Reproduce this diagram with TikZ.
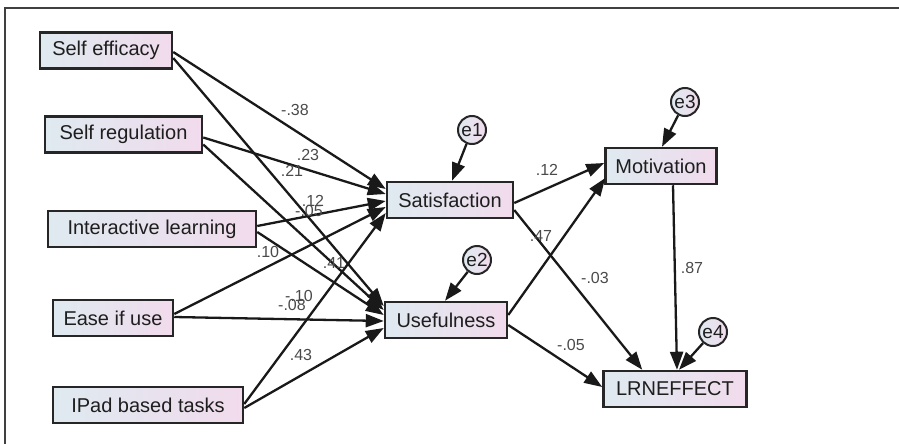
\documentclass[tikz,border=0pt]{standalone}
\usepackage{fontspec}
\setmainfont{Liberation Sans}
\usetikzlibrary{arrows.meta,calc}
\definecolor{boxL}{HTML}{DFEAF0}
\definecolor{boxR}{HTML}{F1DBEC}
\definecolor{txt}{HTML}{1E1E1E}
\definecolor{lbl}{HTML}{4A4A4A}
\begin{document}
\begin{tikzpicture}[x=1pt,y=-1pt,
  obs/.style={draw=black!85, line width=2.5pt, left color=boxL, right color=boxR,
    inner sep=0pt, text=txt, font=\fontsize{20}{24}\selectfont, minimum height=36pt},
  err/.style={circle, draw=black!85, line width=2pt, left color=boxL, right color=boxR,
    inner sep=0pt, minimum size=28pt, text=txt, font=\fontsize{19}{20}\selectfont},
  path/.style={line width=2.3pt, black!90, -{Triangle[length=18pt,width=13pt]}},
  coef/.style={text=lbl, font=\fontsize{16}{17}\selectfont, inner sep=0pt}]
\useasboundingbox (0,0) rectangle (899,444);
\draw[line width=1.6pt, black!75] (5,444) -- (5,8) -- (899,8);

% observed variables
\node[obs, minimum width=132pt] (se)  at (106,50.5) {Self efficacy};
\node[obs, minimum width=157pt] (sr)  at (123.5,134.5) {Self regulation};
\node[obs, minimum width=208pt] (il)  at (152,229) {Interactive learning};
\node[obs, minimum width=120pt] (eu)  at (113,318) {Ease if use};
\node[obs, minimum width=190pt] (ip)  at (148,405) {IPad based tasks};
\node[obs, minimum width=126pt] (sat) at (450,200) {Satisfaction};
\node[obs, minimum width=122pt] (use) at (446,320) {Usefulness};
\node[obs, minimum width=111pt] (mot) at (661,166) {Motivation};
\node[obs, minimum width=143pt] (lrn) at (675,389) {LRNEFFECT};

% error terms
\node[err] (e1) at (472,130) {e1};
\node[err] (e2) at (477,260) {e2};
\node[err] (e3) at (685,102) {e3};
\node[err] (e4) at (713,332) {e4};

% paths into Satisfaction
\draw[path] ($(se.east)+(0,1.5)$) -- ($(sat.west)+(0,-11)$);
\draw[path] ($(sr.east)+(0,3)$)   -- ($(sat.west)+(0,-6)$);
\draw[path] ($(il.east)+(0,-3)$)  -- ($(sat.west)+(0,1)$);
\draw[path] ($(eu.east)+(0,-4)$)  -- ($(sat.west)+(0,7)$);
\draw[path] ($(ip.east)+(0,-1)$)  -- ($(sat.west)+(0,13)$);
% paths into Usefulness
\draw[path] ($(se.east)+(0,7.5)$) -- ($(use.west)+(0,-14)$);
\draw[path] ($(sr.east)+(0,10)$)  -- ($(use.west)+(0,-10)$);
\draw[path] ($(il.east)+(0,3)$)   -- ($(use.west)+(0,-5)$);
\draw[path] ($(eu.east)+(0,-1)$)  -- ($(use.west)+(0,1)$);
\draw[path] ($(ip.east)+(0,3)$)   -- ($(use.west)+(0,8)$);
% right part
\draw[path] ($(sat.east)+(0,3)$)  -- ($(mot.west)+(0,-3)$);
\draw[path] ($(use.east)+(0,-5)$) -- ($(mot.west)+(1,12)$);
\draw[path] ($(sat.east)+(0,10)$) -- ($(lrn.north west)+(40,0)$);
\draw[path] ($(use.east)+(0,5)$)  -- ($(lrn.west)+(0,-2)$);
\draw[path] ($(mot.south)+(12,0)$) -- ($(lrn.north)+(2,0)$);
% error arrows
\draw[path] (e1) -- ($(sat.north)+(2,0)$);
\draw[path] (e2) -- ($(use.north)+(-1,0)$);
\draw[path] (e3) -- ($(mot.north)+(1,0)$);
\draw[path] (e4) -- ($(lrn.north)+(4,0)$);

% coefficients
\node[coef] at (295,110) {-.38};
\node[coef] at (308,155) {.23};
\node[coef] at (292,171) {.21};
\node[coef] at (313,201) {.12};
\node[coef] at (309,211) {-.05};
\node[coef] at (268,252) {.10};
\node[coef] at (334,263) {.41};
\node[coef] at (299,296) {-.10};
\node[coef] at (292,305) {-.08};
\node[coef] at (301,355) {.43};
\node[coef] at (547,170) {.12};
\node[coef] at (541,236) {.47};
\node[coef] at (595,278) {-.03};
\node[coef] at (571,345) {-.05};
\node[coef] at (692,268) {.87};
\end{tikzpicture}
\end{document}
